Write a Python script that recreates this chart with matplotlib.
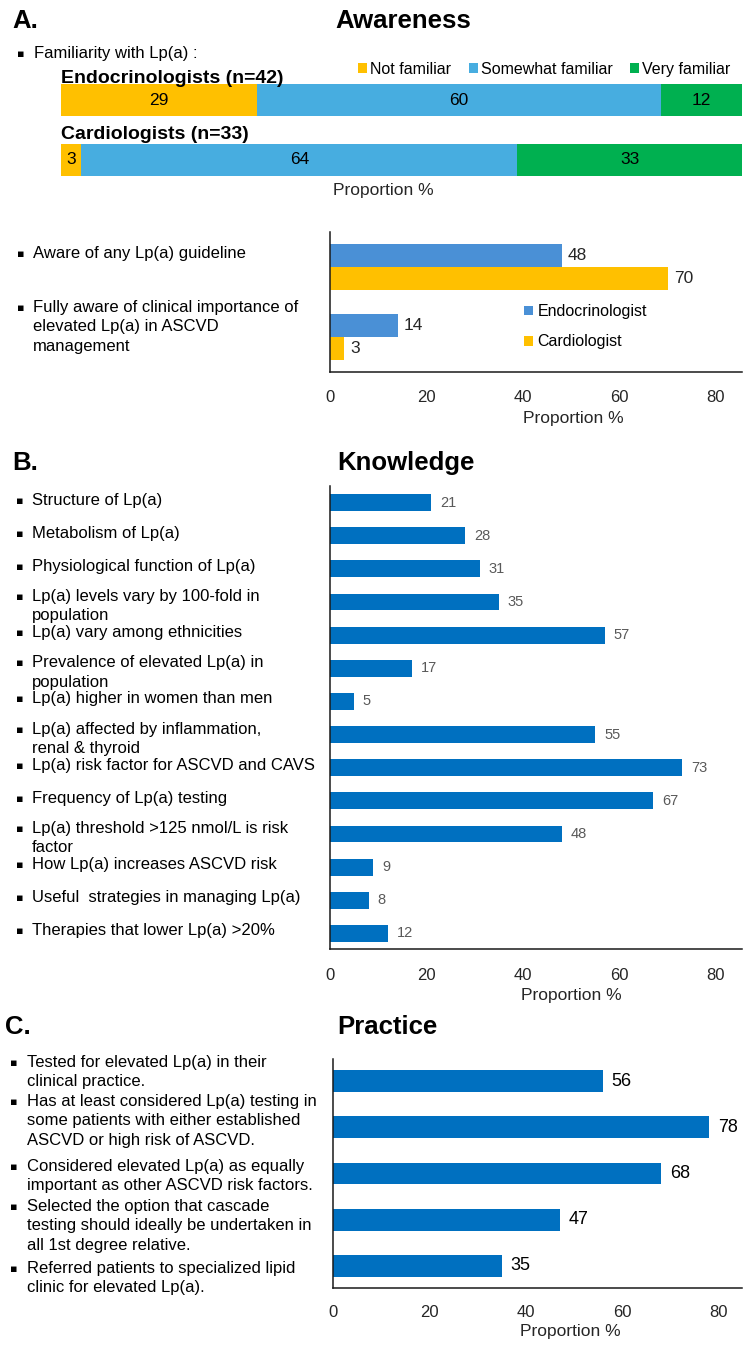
import matplotlib
matplotlib.use('Agg')
import matplotlib.pyplot as plt
from matplotlib import font_manager, transforms

W, H = 748, 1345

names = set(f.name for f in font_manager.fontManager.ttflist)
NARROW = 'Liberation Sans Narrow' if 'Liberation Sans Narrow' in names else 'Liberation Sans'
REG = 'Liberation Sans'
LAB = 12 if NARROW == REG else 12.5   # regular font is wider than the narrow one

# ---- data ----
groups = ['Endocrinologists (n=42)', 'Cardiologists (n=33)']
levels = ['Not familiar', 'Somewhat familiar', 'Very familiar']
not_familiar = [29, 3]
somewhat_familiar = [60, 64]
very_familiar = [12, 33]

aware_items = ['Aware of any Lp(a) guideline',
               'Fully aware of clinical importance of\nelevated Lp(a) in ASCVD\nmanagement']
aware_endo = [48, 14]
aware_cardio = [70, 3]

knowledge_items = ['Structure of Lp(a)',
                   'Metabolism of Lp(a)',
                   'Physiological function of Lp(a)',
                   'Lp(a) levels vary by 100-fold in\npopulation',
                   'Lp(a) vary among ethnicities',
                   'Prevalence of elevated Lp(a) in\npopulation',
                   'Lp(a) higher in women than men',
                   'Lp(a) affected by inflammation,\nrenal & thyroid',
                   'Lp(a) risk factor for ASCVD and CAVS',
                   'Frequency of Lp(a) testing',
                   'Lp(a) threshold >125 nmol/L is risk\nfactor',
                   'How Lp(a) increases ASCVD risk',
                   'Useful  strategies in managing Lp(a)',
                   'Therapies that lower Lp(a) >20%']
knowledge_vals = [21, 28, 31, 35, 57, 17, 5, 55, 73, 67, 48, 9, 8, 12]

practice_items = ['Tested for elevated Lp(a) in their\nclinical practice.',
                  'Has at least considered Lp(a) testing in\nsome patients with either established\nASCVD or high risk of ASCVD.',
                  'Considered elevated Lp(a) as equally\nimportant as other ASCVD risk factors.',
                  'Selected the option that cascade\ntesting should ideally be undertaken in\nall 1st degree relative.',
                  'Referred patients to specialized lipid\nclinic for elevated Lp(a).']
practice_vals = [56, 78, 68, 47, 35]

GOLD = '#FFC000'
LBLUE = '#47ADE0'
GREEN = '#00B050'
EBLUE = '#4A90D6'
DBLUE = '#0070C0'
TXT = '#262626'
ticks = [0, 20, 40, 60, 80]
LSP = 1.36

fig = plt.figure(figsize=(W / 100, H / 100), dpi=100)


def px_axes(l, t, r, b):
    return fig.add_axes([l / W, 1 - b / H, (r - l) / W, (b - t) / H])


def fy(y):
    return 1 - y / H


def bullet_text(xb, xt, y, text):
    # y = pixel centre of the first line
    fig.text(xb / W, fy(y + 4), '\u25aa', family='DejaVu Sans', fontsize=8, va='baseline', color='black')
    fig.text(xt / W, fy(y - 7), text, family=NARROW, fontsize=LAB, va='top',
             color='black', linespacing=LSP)


def style_axes(ax, pad):
    for s in ['top', 'right']:
        ax.spines[s].set_visible(False)
    for s in ['left', 'bottom']:
        ax.spines[s].set_color('#1a1a1a')
        ax.spines[s].set_linewidth(1.1)
    ax.set_xticks(ticks)
    ax.tick_params(axis='x', length=0, pad=pad, labelsize=12, labelcolor=TXT)
    ax.tick_params(axis='y', left=False, labelleft=False)
    for lab in ax.get_xticklabels():
        lab.set_family(REG)


def xlabel(ax, x, y):
    ax.set_xlabel('Proportion %', family=REG, fontsize=12.5, color=TXT)
    ax.xaxis.set_label_coords(x, y)
    ax.xaxis.label.set_va('center')


# ---- titles ----
for x, y, t in [(12, 21, 'A.'), (335, 21, 'Awareness'), (12, 463, 'B.'), (337, 463, 'Knowledge'),
                (5, 1027, 'C.'), (337, 1027, 'Practice')]:
    fig.text(x / W, fy(y), t, family=REG, fontsize=18.5, fontweight='bold', va='center')

# ---- A: familiarity, 100% stacked bars ----
ax1 = px_axes(61, 84, 742, 176)
series = [not_familiar, somewhat_familiar, very_familiar]
totals = [sum(col) for col in zip(*series)]
left = [0, 0]
for lvl, vals, col in zip(levels, series, [GOLD, LBLUE, GREEN]):
    share = [v / t * 100 for v, t in zip(vals, totals)]
    bars = ax1.barh(range(len(groups)), share, left=left, height=0.53, color=col, label=lvl)
    for b, v in zip(bars, vals):
        ax1.text(b.get_x() + b.get_width() / 2, b.get_y() + b.get_height() / 2, str(v),
                 ha='center', va='center', family=NARROW, fontsize=12.5, color='black')
    left = [a + s for a, s in zip(left, share)]
ax1.set_xlim(0, 100)
ax1.set_ylim(1.27, -0.27)
ax1.axis('off')
for i, (g, off) in enumerate(zip(groups, [0.36, 0.42])):
    ax1.text(0, i - off, g, family=REG, fontsize=14, fontweight='bold', va='center', ha='left')
ax1.legend(ncol=3, loc='center', bbox_to_anchor=(0.71, 1.163), frameon=False,
           handlelength=0.55, handleheight=0.55, handletextpad=0.2, columnspacing=1.1,
           prop={'family': NARROW, 'size': 11.5})
fig.text(383 / W, fy(191), 'Proportion %', family=REG, fontsize=12.5, ha='center', va='center', color=TXT)
bullet_text(17, 34, 53, 'Familiarity with Lp(a) :')

# ---- A: awareness grouped bars ----
ax2 = px_axes(330, 232, 742, 372)
yy = list(range(len(aware_items)))
b1 = ax2.barh([y - 0.165 for y in yy], aware_endo, height=0.33, color=EBLUE, label='Endocrinologist')
b2 = ax2.barh([y + 0.165 for y in yy], aware_cardio, height=0.33, color=GOLD, label='Cardiologist')
for bars in (b1, b2):
    for b in bars:
        ax2.text(b.get_width() + 1.3, b.get_y() + b.get_height() / 2, str(int(b.get_width())),
                 va='center', ha='left', family=NARROW, fontsize=12.5, color=TXT)
ax2.set_xlim(0, 85.4)
ax2.set_ylim(1.5, -0.5)
style_axes(ax2, 13)
ax2.legend(loc='upper left', bbox_to_anchor=(0.455, 0.53), frameon=False,
           handlelength=0.55, handleheight=0.55, handletextpad=0.3, labelspacing=0.95,
           borderaxespad=0, prop={'family': REG, 'size': 11.5})
xlabel(ax2, 0.59, -0.335)
bullet_text(17, 33, 253, aware_items[0])
bullet_text(17, 33, 307, aware_items[1])

# ---- B: knowledge ----
ax3 = px_axes(330, 486, 742, 949)
kb = ax3.barh(range(len(knowledge_items)), knowledge_vals, height=0.51, color=DBLUE)
for b in kb:
    ax3.text(b.get_width() + 1.8, b.get_y() + b.get_height() / 2, str(int(b.get_width())),
             va='center', ha='left', family=NARROW, fontsize=10.5, color='#595959')
ax3.set_xlim(0, 85.4)
ax3.set_ylim(13.47, -0.5)
style_axes(ax3, 14)
xlabel(ax3, 0.585, -0.1015)
tr = transforms.blended_transform_factory(fig.transFigure, ax3.transData)
for i, lab in enumerate(knowledge_items):
    up = 6 if '\n' in lab else 3   # first line sits a little above the bar centre
    tb = transforms.offset_copy(tr, fig=fig, y=up - 4, units='dots')
    tt = transforms.offset_copy(tr, fig=fig, y=up + 7, units='dots')
    fig.text(16 / W, i, '\u25aa', transform=tb, family='DejaVu Sans', fontsize=8, va='baseline')
    fig.text(32 / W, i, lab, transform=tt, family=NARROW, fontsize=LAB, va='top', linespacing=LSP)

# ---- C: practice ----
ax4 = px_axes(333, 1059, 742, 1288)
pb = ax4.barh(range(len(practice_items)), practice_vals, height=0.47, color=DBLUE)
for b in pb:
    ax4.text(b.get_width() + 1.8, b.get_y() + b.get_height() / 2, str(int(b.get_width())),
             va='center', ha='left', family=NARROW, fontsize=13, color='black')
ax4.set_xlim(0, 84.8)
ax4.set_ylim(4.48, -0.48)
style_axes(ax4, 12)
xlabel(ax4, 0.58, -0.192)
for lab, y in zip(practice_items, [1062, 1101, 1166, 1206, 1268]):
    bullet_text(10, 27, y, lab)

fig.savefig('out.png', dpi=100)
